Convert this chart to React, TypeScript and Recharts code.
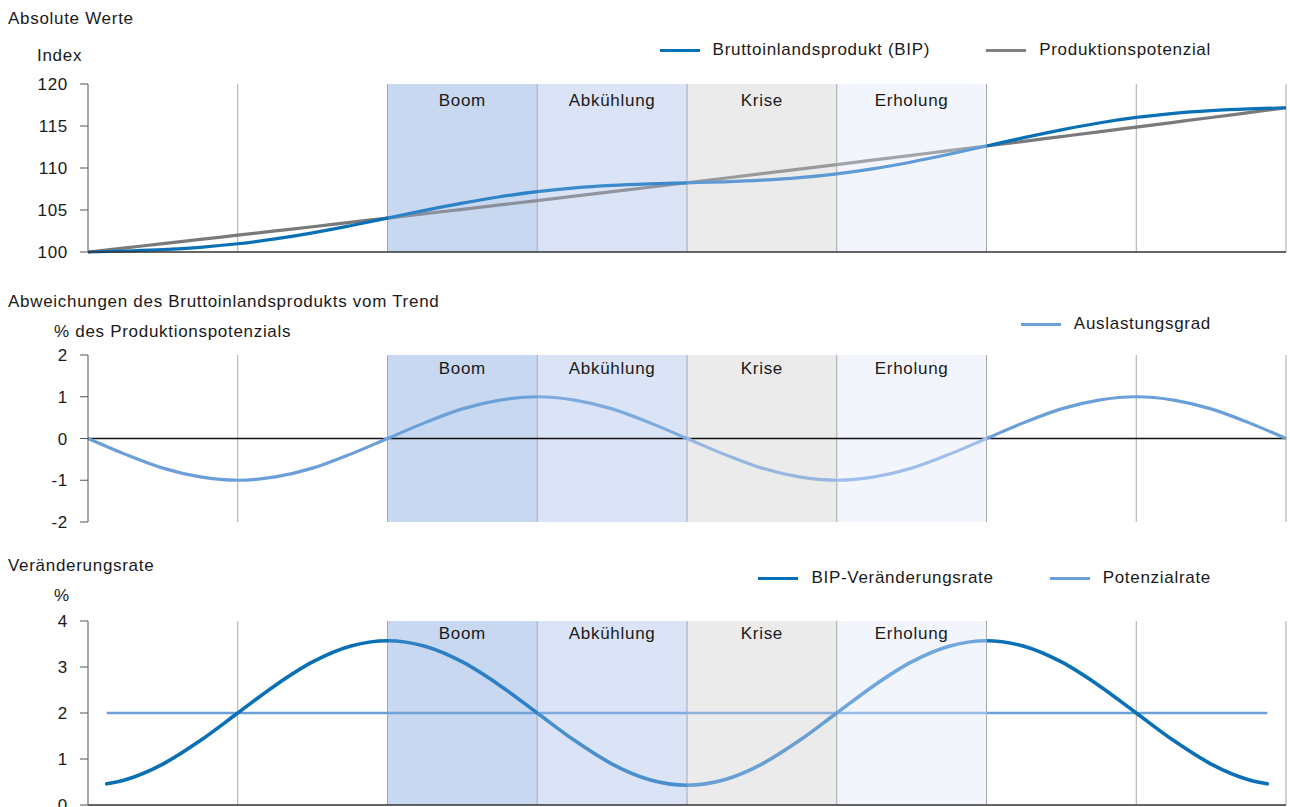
import React from 'react';
import { ComposedChart, Line, XAxis, YAxis, ReferenceArea, ReferenceLine } from 'recharts';

// ---------- data ----------
const xPoints = [0, 0.25, 0.5, 0.75, 1, 1.25, 1.5, 1.75, 2, 2.25, 2.5, 2.75, 3, 3.25, 3.5, 3.75, 4, 4.25, 4.5, 4.75, 5, 5.25, 5.5, 5.75, 6, 6.25, 6.5, 6.75, 7, 7.25, 7.5, 7.75, 8];
const bipIndex = [100, 100.12, 100.28, 100.56, 100.98, 101.56, 102.28, 103.13, 104.04, 104.96, 105.82, 106.58, 107.18, 107.64, 107.94, 108.12, 108.24, 108.36, 108.55, 108.85, 109.31, 109.93, 110.72, 111.63, 112.62, 113.61, 114.54, 115.36, 116.02, 116.51, 116.83, 117.04, 117.17];
const potentialIndex = [100, 100.5, 100.99, 101.5, 102.0, 102.51, 103.01, 103.53, 104.04, 104.56, 105.08, 105.6, 106.12, 106.65, 107.18, 107.71, 108.24, 108.78, 109.32, 109.86, 110.41, 110.96, 111.51, 112.06, 112.62, 113.18, 113.74, 114.3, 114.87, 115.44, 116.01, 116.59, 117.17];
const outputGap = [0, -0.38, -0.71, -0.92, -1, -0.92, -0.71, -0.38, 0, 0.38, 0.71, 0.92, 1, 0.92, 0.71, 0.38, 0, -0.38, -0.71, -0.92, -1, -0.92, -0.71, -0.38, 0, 0.38, 0.71, 0.92, 1, 0.92, 0.71, 0.38, 0];
const rateX = [0.125, 0.25, 0.5, 0.75, 1, 1.25, 1.5, 1.75, 2, 2.25, 2.5, 2.75, 3, 3.25, 3.5, 3.75, 4, 4.25, 4.5, 4.75, 5, 5.25, 5.5, 5.75, 6, 6.25, 6.5, 6.75, 7, 7.25, 7.5, 7.75, 7.875];
const bipRate = [0.46, 0.55, 0.89, 1.4, 2.0, 2.6, 3.11, 3.45, 3.57, 3.45, 3.11, 2.6, 2.0, 1.4, 0.89, 0.55, 0.43, 0.55, 0.89, 1.4, 2.0, 2.6, 3.11, 3.45, 3.57, 3.45, 3.11, 2.6, 2.0, 1.4, 0.89, 0.55, 0.46];
const potentialRate = [2, 2, 2, 2, 2, 2, 2, 2, 2, 2, 2, 2, 2, 2, 2, 2, 2, 2, 2, 2, 2, 2, 2, 2, 2, 2, 2, 2, 2, 2, 2, 2, 2];

const phaseNames = ['Boom', 'Abkühlung', 'Krise', 'Erholung'];
const phaseStart = [2, 3, 4, 5];
const phaseEnd = [3, 4, 5, 6];
const gridX = [1, 2, 3, 4, 5, 6, 7, 8];
const xTicks = [0, 1, 2, 3, 4, 5, 6, 7, 8];
const ticksIndex = [100, 105, 110, 115, 120];
const ticksGap = [-2, -1, 0, 1, 2];
const ticksRate = [0, 1, 2, 3, 4];

const data1 = xPoints.map((x, i) => ({ x, bip: bipIndex[i], pot: potentialIndex[i] }));
const data2 = xPoints.map((x, i) => ({ x, gap: outputGap[i] }));
const data3 = rateX.map((x, i) => ({ x, rate: bipRate[i], potRate: potentialRate[i] }));

// ---------- styles ----------
const FONT = '"Liberation Sans", Arial, Helvetica, sans-serif';
const TEXT = '#1a1a1a';
const FS = 17;
const phaseFill = ['#c9d8f1', '#dae4f6', '#ebebeb', '#f3f5fd'];
const PLOT_L = 88;
const PLOT_R = 1286;

const gradients: Record<string, string[]> = {
  bip1: ['#0a70b6', '#2c82c6', '#3c8acb', '#5e99d3', '#5e9bd7'],
  pot1: ['#7a7a7a', '#8a8f9a', '#90959f', '#9a9a9a', '#a2a4aa'],
  gap2: ['#6a9fd7', '#6ca1d7', '#7eabde', '#97b7e1', '#9fbfea'],
  rate3: ['#0a70b6', '#2c80c3', '#4a8fcd', '#6a9fd4', '#70a6de'],
  pot3: ['#6a9fd7', '#72a4d9', '#7eaadd', '#8eb2dc', '#98bce8'],
};

function Grad({ id }: { id: string }) {
  const c = gradients[id];
  const stops: [number, string][] = [
    [0, c[0]], [0.25, c[0]], [0.25, c[1]], [0.375, c[1]], [0.375, c[2]], [0.5, c[2]],
    [0.5, c[3]], [0.625, c[3]], [0.625, c[4]], [0.75, c[4]], [0.75, c[0]], [1, c[0]],
  ];
  return (
    <linearGradient id={id} gradientUnits="userSpaceOnUse" x1={PLOT_L} x2={PLOT_R} y1={0} y2={0}>
      {stops.map(([o, col], i) => <stop key={i} offset={o} stopColor={col} />)}
    </linearGradient>
  );
}

const tickStyle = { fontSize: FS, fill: TEXT, fontFamily: FONT };

function bands(labelOffset: number) {
  return phaseNames.map((name, i) => (
    <ReferenceArea
      key={'a' + i}
      x1={phaseStart[i]}
      x2={phaseEnd[i]}
      fill={phaseFill[i]}
      fillOpacity={1}
      stroke="none"
      ifOverflow="visible"
      label={{ value: name, position: 'insideTop', offset: labelOffset, fill: TEXT, fontSize: FS, fontFamily: FONT }}
    />
  ));
}

function gridLines() {
  return gridX.map((x) => (
    <ReferenceLine key={'g' + x} x={x} stroke="#a8a8a8" strokeWidth={1} ifOverflow="visible" />
  ));
}

function Legend({ top, items }: { top: number; items: { label: string; color: string }[] }) {
  return (
    <div style={{ position: 'absolute', top, right: 79, display: 'flex', alignItems: 'center', gap: 56, lineHeight: '18px' }}>
      {items.map((it) => (
        <div key={it.label} style={{ display: 'flex', alignItems: 'center' }}>
          <div style={{ width: 40, height: 3, background: it.color, marginRight: 13 }} />
          <span>{it.label}</span>
        </div>
      ))}
    </div>
  );
}

function Label({ left, top, text }: { left: number; top: number; text: string }) {
  return <div style={{ position: 'absolute', left, top, lineHeight: '18px', whiteSpace: 'nowrap' }}>{text}</div>;
}

export default function App() {
  return (
    <div
      style={{
        position: 'absolute', left: 0, top: 0, width: 1290, height: 807, overflow: 'hidden',
        background: '#fff', fontFamily: FONT, fontSize: FS, color: TEXT, letterSpacing: '0.7px',
      }}
    >
      {/* Panel 1 */}
      <div style={{ position: 'absolute', left: 0, top: 0 }}>
        <ComposedChart width={1290} height={270} data={data1} margin={{ top: 84, right: 4, bottom: 8, left: 48 }}>
          <defs>
            <Grad id="bip1" />
            <Grad id="pot1" />
          </defs>
          <XAxis dataKey="x" type="number" domain={[0, 8]} ticks={xTicks} tick={false} height={10}
            tickSize={5} axisLine={{ stroke: '#333', strokeWidth: 1.5 }} tickLine={{ stroke: '#333' }} />
          <YAxis type="number" domain={[100, 120]} ticks={ticksIndex} width={40} tickSize={8} tickMargin={12}
            axisLine={{ stroke: '#555' }} tickLine={{ stroke: '#555' }} tick={tickStyle} interval={0} />
          {bands(10)}
          {gridLines()}
          <Line dataKey="pot" type="monotone" stroke="url(#pot1)" strokeWidth={3.2} dot={false} activeDot={false} isAnimationActive={false} />
          <Line dataKey="bip" type="monotone" stroke="url(#bip1)" strokeWidth={3.2} dot={false} activeDot={false} isAnimationActive={false} />
        </ComposedChart>
      </div>

      {/* Panel 2 */}
      <div style={{ position: 'absolute', left: 0, top: 270 }}>
        <ComposedChart width={1290} height={270} data={data2} margin={{ top: 85, right: 4, bottom: 18, left: 48 }}>
          <defs>
            <Grad id="gap2" />
          </defs>
          <XAxis dataKey="x" type="number" domain={[0, 8]} ticks={xTicks} hide />
          <YAxis type="number" domain={[-2, 2]} ticks={ticksGap} width={40} tickSize={8} tickMargin={12}
            axisLine={{ stroke: '#555' }} tickLine={{ stroke: '#555' }} tick={tickStyle} interval={0} />
          {bands(7)}
          {gridLines()}
          <ReferenceLine y={0} stroke="#111" strokeWidth={1.6} />
          <Line dataKey="gap" type="monotone" stroke="url(#gap2)" strokeWidth={3.2} dot={false} activeDot={false} isAnimationActive={false} />
        </ComposedChart>
      </div>

      {/* Panel 3 */}
      <div style={{ position: 'absolute', left: 0, top: 540 }}>
        <ComposedChart width={1290} height={280} data={data3} margin={{ top: 81, right: 4, bottom: 5, left: 48 }}>
          <defs>
            <Grad id="rate3" />
            <Grad id="pot3" />
          </defs>
          <XAxis dataKey="x" type="number" domain={[0, 8]} ticks={xTicks} tick={false} height={10}
            tickSize={5} axisLine={{ stroke: '#333', strokeWidth: 1.5 }} tickLine={{ stroke: '#333' }} />
          <YAxis type="number" domain={[0, 4]} ticks={ticksRate} width={40} tickSize={8} tickMargin={12}
            axisLine={{ stroke: '#555' }} tickLine={{ stroke: '#555' }} tick={tickStyle} interval={0} />
          {bands(6)}
          {gridLines()}
          <Line dataKey="potRate" type="monotone" stroke="url(#pot3)" strokeWidth={2.6} dot={false} activeDot={false} isAnimationActive={false} />
          <Line dataKey="rate" type="monotone" stroke="url(#rate3)" strokeWidth={3.6} strokeLinecap="round" dot={false} activeDot={false} isAnimationActive={false} />
        </ComposedChart>
      </div>

      {/* Texts */}
      <Label left={8} top={10} text="Absolute Werte" />
      <Label left={37} top={47} text="Index" />
      <Legend top={41} items={[{ label: 'Bruttoinlandsprodukt (BIP)', color: '#0070b8' }, { label: 'Produktionspotenzial', color: '#808080' }]} />

      <Label left={8} top={293} text="Abweichungen des Bruttoinlandsprodukts vom Trend" />
      <Label left={54} top={323} text="% des Produktionspotenzials" />
      <Legend top={315} items={[{ label: 'Auslastungsgrad', color: '#6b9fd8' }]} />

      <Label left={8} top={557} text="Veränderungsrate" />
      <Label left={54} top={587} text="%" />
      <Legend top={569} items={[{ label: 'BIP-Veränderungsrate', color: '#0070b8' }, { label: 'Potenzialrate', color: '#6b9fd8' }]} />
    </div>
  );
}
